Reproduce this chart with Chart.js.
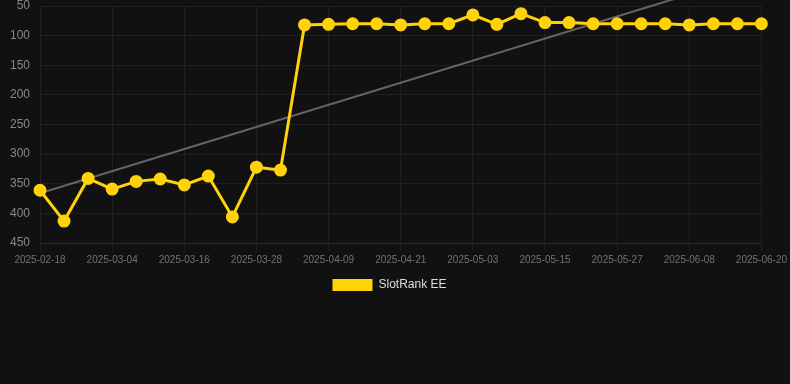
<!DOCTYPE html>
<html lang="en">
<head>
  <meta charset="UTF-8">
  <title>SlotRank EE</title>
  <script src="https://cdn.jsdelivr.net/npm/chart.js"></script>
  <style>
    html, body {
      margin: 0;
      padding: 0;
      background: #111111;
    }
    .wrap {
      width: 790px;
      height: 301px;
    }
  </style>
</head>
<body>
  <div class="wrap">
    <canvas id="rankChart"></canvas>
  </div>

  <script>
    const dates = [
      '2025-02-18', '2025-02-23', '2025-02-28', '2025-03-04', '2025-03-08', '2025-03-12',
      '2025-03-16', '2025-03-20', '2025-03-24', '2025-03-28', '2025-04-01', '2025-04-05',
      '2025-04-09', '2025-04-13', '2025-04-17', '2025-04-21', '2025-04-25', '2025-04-29',
      '2025-05-03', '2025-05-07', '2025-05-11', '2025-05-15', '2025-05-19', '2025-05-23',
      '2025-05-27', '2025-05-31', '2025-06-04', '2025-06-08', '2025-06-12', '2025-06-16',
      '2025-06-20'
    ];
    const ranks = [
      361, 413, 341, 359, 346, 342, 352, 337, 406, 322, 327,
      82, 81, 80, 80, 82, 80, 80, 65, 81, 63,
      78, 78, 80, 80, 80, 80, 82, 80, 80, 80
    ];
    // trend line: start and end values
    const trendEnds = [366, -7];
    const yTicks = [50, 100, 150, 200, 250, 300, 350, 400, 450];

    const trendData = dates.map((d, i) => {
      if (i === 0) return trendEnds[0];
      if (i === dates.length - 1) return trendEnds[1];
      return null;
    });

    const gridColor = 'rgba(255,255,255,0.06)';
    const font = 'Arial, "Liberation Sans", sans-serif';

    new Chart(document.getElementById('rankChart'), {
      type: 'line',
      data: {
        labels: dates,
        datasets: [
          {
            label: 'SlotRank EE',
            data: ranks,
            borderColor: '#ffd20a',
            backgroundColor: '#ffd20a',
            borderWidth: 3,
            pointRadius: 5,
            pointHoverRadius: 6,
            tension: 0
          },
          {
            label: 'trend',
            data: trendData,
            spanGaps: true,
            borderColor: 'rgba(170,170,170,0.55)',
            borderWidth: 2,
            pointRadius: 0,
            clip: false
          }
        ]
      },
      options: {
        responsive: true,
        maintainAspectRatio: false,
        animation: false,
        layout: { autoPadding: false, padding: { left: 0, right: 11 } },
        plugins: {
          legend: {
            position: 'bottom',
            labels: {
              color: '#dddddd',
              boxWidth: 40,
              boxHeight: 12,
              font: { family: font, size: 12 },
              filter: item => item.text !== 'trend',
              generateLabels: chart => {
                const items = Chart.defaults.plugins.legend.labels.generateLabels(chart);
                items.forEach(it => { it.lineWidth = 0; });
                return items;
              }
            }
          },
          tooltip: { enabled: false }
        },
        scales: {
          x: {
            grid: {
              color: ctx => (ctx.index % 3 === 0 ? gridColor : 'transparent'),
              tickLength: 8
            },
            border: { color: gridColor },
            ticks: {
              autoSkip: false,
              maxRotation: 0,
              color: '#727272',
              font: { family: font, size: 10 },
              callback: function (val, i) {
                return i % 3 === 0 ? this.getLabelForValue(val) : '';
              }
            }
          },
          y: {
            reverse: true,
            min: yTicks[0],
            max: yTicks[yTicks.length - 1],
            afterBuildTicks: axis => {
              axis.ticks = yTicks.map(v => ({ value: v }));
            },
            afterFit: axis => {
              axis.width = 40;
            },
            grid: { color: gridColor, tickColor: 'transparent', tickLength: 10 },
            border: { display: false },
            ticks: {
              padding: 0,
              color: '#888888',
              font: { family: font, size: 12, lineHeight: 1 }
            }
          }
        }
      }
    });
  </script>
</body>
</html>
